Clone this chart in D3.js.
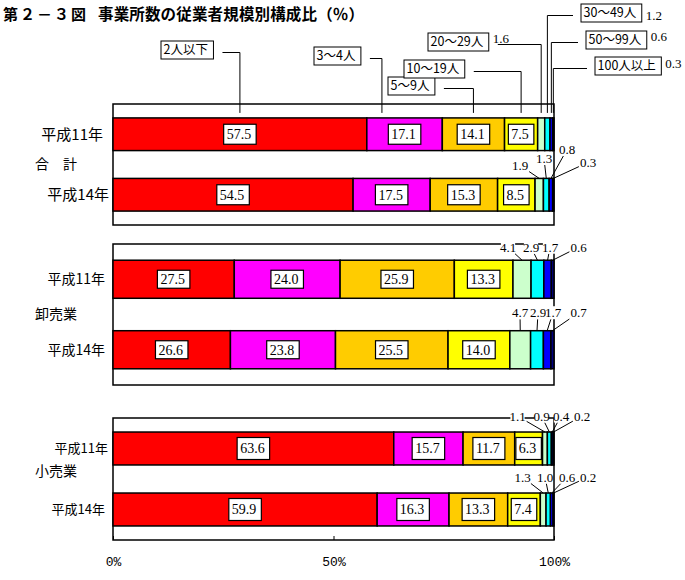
<!DOCTYPE html>
<html>
<head>
<meta charset="utf-8">
<script src="https://cdn.jsdelivr.net/npm/d3@7"></script>
<style>
body { margin: 0; background: #fff; }
text { font-family: "Noto Sans CJK JP", sans-serif; fill: #000; }
text.num { font-family: "Liberation Serif", serif; }
text.axis { font-family: "Liberation Mono", monospace; }
</style>
</head>
<body>
<svg id="chart" width="685" height="580"></svg>
<script>
// data (%)
var categories = ["2人以下", "3～4人", "5～9人", "10～19人", "20～29人", "30～49人", "50～99人", "100人以上"];
var groupNames = ["合　計", "卸売業", "小売業"];
var years = ["平成11年", "平成14年"];

var totalH11 = [57.5, 17.1, 14.1, 7.5, 1.6, 1.2, 0.6, 0.3];
var totalH14 = [54.5, 17.5, 15.3, 8.5, 1.9, 1.3, 0.8, 0.3];
var wholesaleH11 = [27.5, 24.0, 25.9, 13.3, 4.1, 2.9, 1.7, 0.6];
var wholesaleH14 = [26.6, 23.8, 25.5, 14.0, 4.7, 2.9, 1.7, 0.7];
var retailH11 = [63.6, 15.7, 11.7, 6.3, 1.1, 0.9, 0.4, 0.2];
var retailH14 = [59.9, 16.3, 13.3, 7.4, 1.3, 1.0, 0.6, 0.2];

var tickValues = [0, 50, 100];
var tickLabels = ["0%", "50%", "100%"];

// styling / layout
var colors = ["#ff0000", "#ff00ff", "#ffcc00", "#ffff00", "#ccffcc", "#00ffff", "#0000ff", "#000080"];
var panelTop = [104, 244, 418],
    panelHeight = [121, 141, 122];
var rowFont = [15, 14, 13];
var rowLabelEnd = [[103, 109], [105, 105], [108, 105]];
var groupLabelDy = [0, 0, -8];
var boxHeight = [20, 18, 22];
// small label centres, offset from (100% , bar top)
var smallLabelPos = [
    [null, [[-34, -13], [-10, -20], [13, -29], [34, -16]]],
    [[[-46, -13], [-23, -13], [-4, -13], [24.5, -13]], [[-34, -18], [-16, -18], [-1, -18], [24.5, -18]]],
    [[[-36.5, -16], [-12.5, -16], [7, -16], [28, -16]], [[-31.5, -16], [-9, -16], [13, -16], [34, -16]]]
];
// callout boxes for the first bar
var legendBoxes = [[161, 41], [314, 47], [388, 77], [404, 60], [428, 33], [581, 4], [586, 31], [595, 57]];
var legendLeaderAt = [0.5, 0.2, 0.5, 0.5, 0.5, 0.5, 0.5, 0.5];
var legendValueDy = [0, 0, 0, 0, 5, 11, 5, 6];

var panels = [
    {name: groupNames[0], rows: [totalH11, totalH14]},
    {name: groupNames[1], rows: [wholesaleH11, wholesaleH14]},
    {name: groupNames[2], rows: [retailH11, retailH14]}
];

var svg = d3.select("#chart");
var x = d3.scaleLinear().domain([0, 100]).range([113, 554]);

var segments = function(values) {
    var sum = d3.sum(values), acc = 0;
    return values.map(function(v, i) {
        var s = acc;
        acc += v;
        return {i: i, value: v, x0: s / sum * 100, x1: acc / sum * 100};
    });
};
var mid = function(d, f) { return x(d.x0) + (x(d.x1) - x(d.x0)) * (f === undefined ? 0.5 : f); };

// title
svg.append("text").attr("x", 3).attr("y", 20)
    .style("font-size", "15px").style("font-weight", "bold").style("letter-spacing", "2px")
    .text("第２－３図");
svg.append("text").attr("x", 98).attr("y", 20)
    .attr("textLength", 266).attr("lengthAdjust", "spacing")
    .style("font-size", "15.5px").style("font-weight", "bold")
    .text("事業所数の従業者規模別構成比（％）");

var firstBar = null;

panels.forEach(function(p, pi) {
    var top = panelTop[pi], h = panelHeight[pi];
    var y = d3.scaleBand().domain(years).range([top, top + h])
        .paddingInner(0.46).paddingOuter(0.23);

    svg.append("rect")
        .attr("x", x(0)).attr("y", top)
        .attr("width", x(100) - x(0)).attr("height", h)
        .attr("fill", "#fff").attr("stroke", "#000").attr("stroke-width", 1.5);

    svg.append("text")
        .attr("x", 35).attr("y", top + h / 2 + groupLabelDy[pi])
        .attr("dy", "0.35em")
        .style("font-size", "14px")
        .text(p.name);

    p.rows.forEach(function(values, ri) {
        var segs = segments(values);
        var year = years[ri];
        var barTop = y(year), bw = y.bandwidth();
        var g = svg.append("g");

        g.selectAll("rect.seg")
            .data(segs)
            .enter().append("rect")
            .attr("class", "seg")
            .attr("x", function(d) { return x(d.x0); })
            .attr("y", barTop)
            .attr("width", function(d) { return x(d.x1) - x(d.x0); })
            .attr("height", bw)
            .attr("fill", function(d) { return colors[d.i]; })
            .attr("stroke", "#000")
            .attr("stroke-width", 1.5);

        // boxed values for the wide segments
        var big = g.selectAll("g.val")
            .data(segs.slice(0, 4))
            .enter().append("g")
            .attr("class", "val");
        big.each(function(d) {
            var sel = d3.select(this);
            var t = sel.append("text").attr("class", "num")
                .style("font-size", "14px")
                .attr("dy", "0.35em")
                .text(d.value.toFixed(1));
            var tw = t.node().getComputedTextLength();
            var bwid = tw + 8, bh = boxHeight[pi];
            var bx = mid(d) - bwid / 2, by = barTop + bw / 2 - bh / 2;
            sel.insert("rect", "text")
                .attr("x", bx).attr("y", by)
                .attr("width", bwid).attr("height", bh)
                .attr("fill", "#fff").attr("stroke", "#000").attr("stroke-width", 1.2);
            t.attr("x", bx + 3).attr("y", barTop + bw / 2);
        });

        svg.append("text")
            .attr("x", rowLabelEnd[pi][ri])
            .attr("y", barTop + bw / 2)
            .attr("dy", "0.35em")
            .attr("text-anchor", "end")
            .style("font-size", rowFont[pi] + "px")
            .text(year);

        var pos = smallLabelPos[pi][ri];
        if (!pos) {
            firstBar = {segs: segs, top: barTop};
            return;
        }
        segs.slice(4).forEach(function(d, k) {
            var cx = x(100) + pos[k][0], cy = barTop + pos[k][1];
            var tx = mid(d), ty = barTop;
            var lg = svg.append("g");
            var t = lg.append("text").attr("class", "num")
                .attr("x", cx).attr("y", cy).attr("dy", "0.35em")
                .attr("text-anchor", "middle")
                .style("font-size", "13px")
                .text(d.value.toFixed(1));
            var hw = t.node().getComputedTextLength() / 2, hh = 6.5;
            var dx = tx - cx, dy = ty - cy;
            var s = Math.min((hw + 1) / Math.max(Math.abs(dx), 0.001), hh / Math.max(Math.abs(dy), 0.001), 1);
            lg.insert("rect", "text")
                .attr("x", cx - hw + 1).attr("y", cy - hh)
                .attr("width", hw * 2 - 2).attr("height", hh * 2)
                .attr("fill", "#fff");
            lg.insert("line", "rect")
                .attr("x1", cx + dx * s).attr("y1", cy + dy * s)
                .attr("x2", tx).attr("y2", ty)
                .attr("stroke", "#000").attr("stroke-width", 1);
        });
    });
});

// callout boxes for the total, 平成11年 bar
firstBar.segs.forEach(function(d, i) {
    var bx = legendBoxes[i][0], by = legendBoxes[i][1];
    var g = svg.append("g");
    var t = g.append("text")
        .attr("x", bx + 2.5).attr("y", by + 9).attr("dy", "0.35em")
        .style("font-size", "12.5px")
        .text(categories[i]);
    var w = t.node().getComputedTextLength() + 8;
    g.insert("rect", "text")
        .attr("x", bx).attr("y", by).attr("width", w).attr("height", 18)
        .attr("fill", "#fff").attr("stroke", "#000").attr("stroke-width", 1);

    var sx = mid(d, legendLeaderAt[i]), ly = by + 11.5;
    var lx = i < 5 ? bx + w + 9 : bx - 8;
    g.append("path")
        .attr("d", "M" + lx + "," + ly + "H" + sx + "V" + (firstBar.top - 5))
        .attr("fill", "none").attr("stroke", "#000").attr("stroke-width", 1);

    if (i >= 4) {
        g.append("text").attr("class", "num")
            .attr("x", bx + w + 4).attr("y", by + legendValueDy[i]).attr("dy", "0.35em")
            .style("font-size", "13px")
            .text(d.value.toFixed(1));
    }
});

// x axis below the last panel
var axis = d3.axisBottom(x)
    .tickValues(tickValues)
    .tickFormat(function(d, i) { return tickLabels[i]; })
    .tickSize(-4)
    .tickPadding(17);
var ax = svg.append("g")
    .attr("transform", "translate(0," + (panelTop[2] + panelHeight[2]) + ")")
    .call(axis);
ax.select(".domain").remove();
ax.selectAll(".tick line").attr("stroke", "#000").attr("stroke-width", 1);
ax.selectAll(".tick text").attr("class", "axis").style("font-size", "13px").attr("fill", "#000");
</script>
</body>
</html>
